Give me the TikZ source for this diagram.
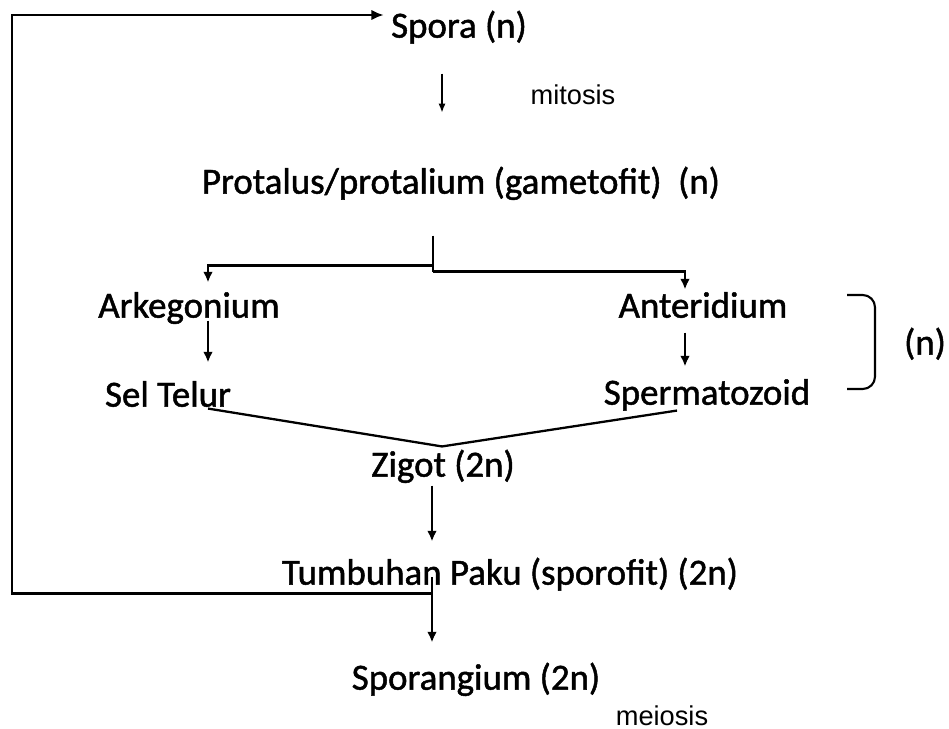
\documentclass[tikz,border=0pt]{standalone}
\usepackage{fontspec}
\setmainfont{Carlito}[UprightFeatures={FakeBold=1.3}]
\newfontfamily\arialfont{Liberation Sans}
\usetikzlibrary{arrows.meta,positioning,calc}

\tikzset{
  stage/.style={font=\fontsize{21}{25}\selectfont, inner sep=2pt, text height=15pt, text depth=4pt},
  note/.style={font=\arialfont\fontsize{15.5}{18}\selectfont, inner sep=1pt},
  conn/.style={line width=1.3pt},
  arr/.style={conn, -{Latex[length=6pt,width=5.5pt]}},
  thinarr/.style={line width=0.7pt, -{Latex[length=5pt,width=4pt]}},
  cycle line/.style={line width=1.6pt, -{Latex[length=7pt,width=6pt]}},
}

\begin{document}
\begin{tikzpicture}[x=0.02cm, y=-0.02cm]
    \useasboundingbox (0,0) rectangle (949,729);

    % haploid stages
    \node[stage] (spora) at (459,28) {Spora (n)};
    \node[note] (mitosis) at (573,95) {mitosis};
    \node[stage] (protalus) at (461,184) {Protalus/protalium (gametofit)~~(n)};
    \node[stage] (arkegonium) at (189,308) {Arkegonium};
    \node[stage] (anteridium) at (703,308) {Anteridium};
    \node[stage] (seltelur) at (168,397) {Sel Telur};
    \node[stage] (sperma) at (707,395) {Spermatozoid};
    \node[stage] (haploid) at (925,345) {(n)};

    % diploid stages
    \node[stage] (zigot) at (443,467) {Zigot (2n)};
    \node[stage] (paku) at (510,575) {Tumbuhan Paku (sporofit) (2n)};
    \node[stage] (sporangium) at (476,680) {Sporangium (2n)};
    \node[note] (meiosis) at (662,716) {meiosis};

    \coordinate (corner) at (12,15);

    \draw[thinarr] ([shift={(-17,25)}]spora.south) -- ([shift={(-19,-51)}]protalus.north);

    % split into the two organs
    \draw[conn] ([shift={(-28,31)}]protalus.south) coordinate (fork) -- ++(0,36);
    \draw[arr] ([shift={(0,30)}]fork) -| ([shift={(19,-5)}]arkegonium.north);
    \draw[arr] ([shift={(0,36)}]fork) -| ([shift={(-18,2)}]anteridium.north);
    \draw[arr] ([shift={(19,-8)}]arkegonium.south) -- ([shift={(40,-14)}]seltelur.north);
    \draw[arr] ([shift={(-18,4)}]anteridium.south) -- ([shift={(-22,-8)}]sperma.north);

    \draw[rounded corners=7pt, line width=1.2pt] (847,295) -- (875,295) -- (875,389) -- (847,389);

    % fertilisation
    \draw[conn] ([shift={(40,-9)}]seltelur.south) -- ([shift={(-1,0)}]zigot.north) -- ([shift={(-30,-5)}]sperma.south);
    \draw[arr] ([shift={(-11,-2)}]zigot.south) -- ([shift={(-78,-13)}]paku.north);
    \draw[arr] ([shift={(-78,2)}]paku.center) -- ([shift={(-44,-17)}]sporangium.north);

    % back to spora
    \draw[cycle line] ([shift={(-78,-2)}]paku.south) -| (corner) -- ([xshift=-2pt]corner -| spora.west);
\end{tikzpicture}
\end{document}
